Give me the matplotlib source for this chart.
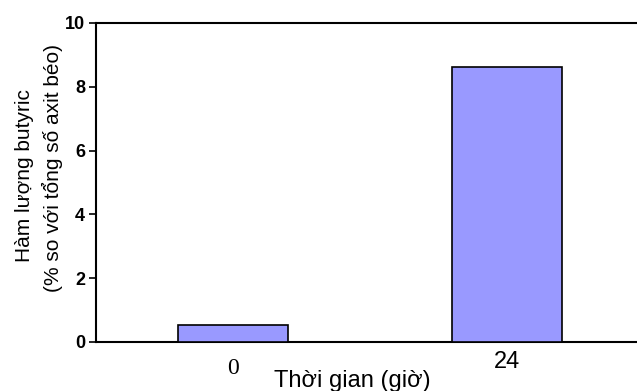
import matplotlib
matplotlib.use('Agg')
from matplotlib import pyplot as plt
from matplotlib import transforms

# data
categories = ['0', '24']
values = [0.53, 8.63]
yticks = [0, 2, 4, 6, 8, 10]

plt.rcParams['font.family'] = ['Liberation Sans', 'DejaVu Sans']

W, H = 637, 391
fig = plt.figure(figsize=(W/100, H/100), dpi=100)
ax = fig.add_axes([96/W, 1-342/H, 548/W, 319/H])

pos = list(range(len(categories)))
ax.bar(pos, values, width=0.40, color='#9999FF', edgecolor='black', linewidth=1.2, zorder=3)

ax.set_xlim(-0.5, 1.5)
ax.set_ylim(0, 10)
ax.set_yticks(yticks)
ax.set_yticklabels([str(t) for t in yticks], fontweight='bold', fontsize=13)
ax.tick_params(axis='y', direction='out', length=5, width=1.2, pad=3)
ax.set_xticks([])

for s in ['left', 'top', 'bottom']:
    ax.spines[s].set_linewidth(1.5)
ax.spines['right'].set_visible(False)

# x tick labels: first one is serif in the reference, second sans
tr = transforms.blended_transform_factory(ax.transData, fig.transFigure)
ax.text(pos[0], 1-368/H, categories[0], ha='center', va='center', fontsize=17,
        family='Liberation Serif', transform=tr)
ax.text(pos[1], 1-362/H, categories[1], ha='center', va='center', fontsize=17, transform=tr)

fig.text(352/W, 1-381/H, 'Thời gian (giờ)', ha='center', va='center', fontsize=17)
fig.text(25/W, 1-176/H, 'Hàm lượng butyric', rotation=90, ha='center', va='center', fontsize=15)
fig.text(52/W, 1-168/H, '(% so với tổng số axit béo)', rotation=90, ha='center', va='center', fontsize=15)

fig.savefig('out.png', dpi=100)
